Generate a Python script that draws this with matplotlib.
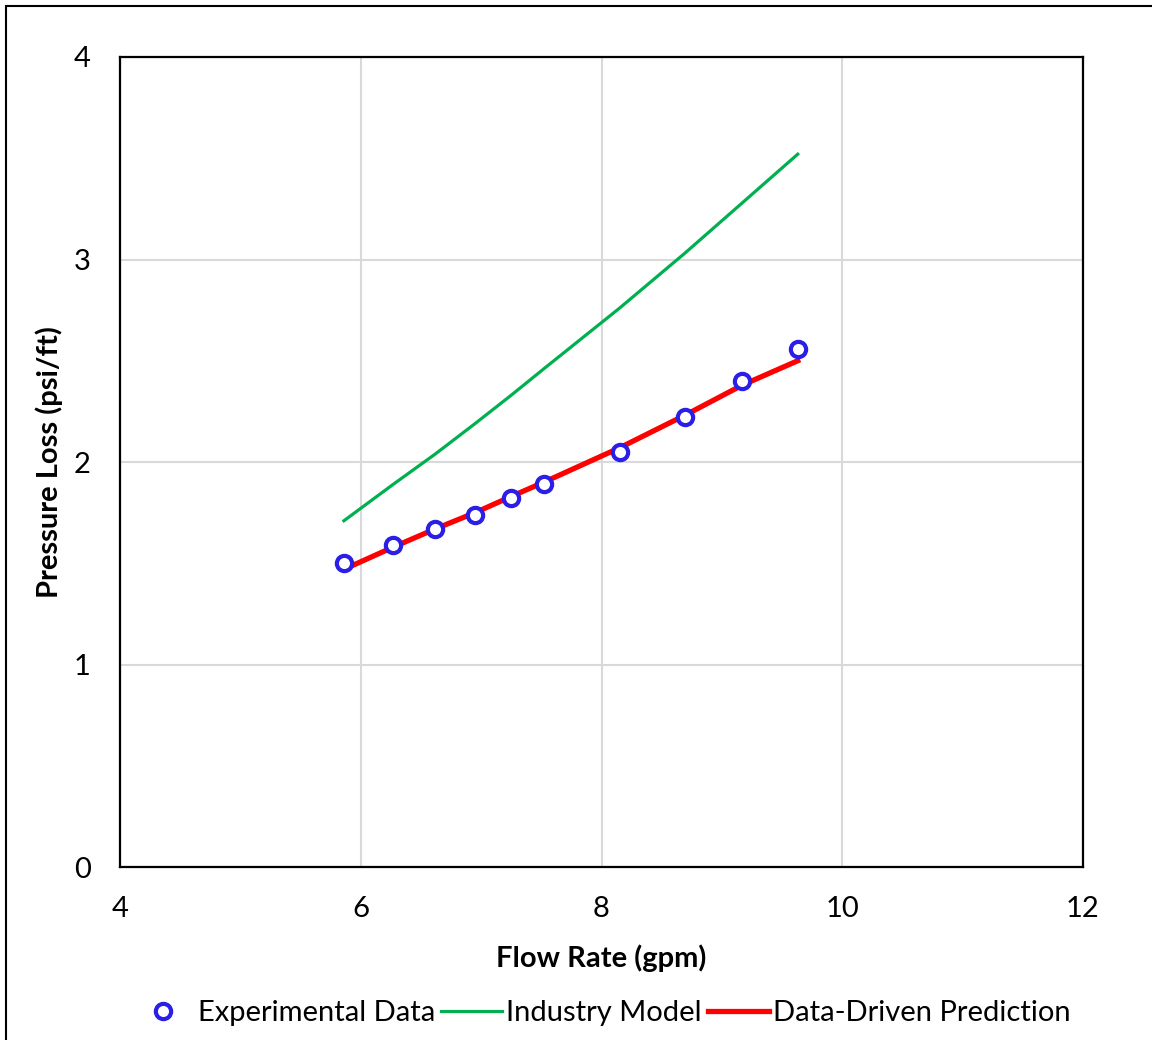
import matplotlib.pyplot as plt
from matplotlib.patches import Rectangle

# Experimental flow loop data
flow_rate = [5.86, 6.27, 6.62, 6.95, 7.25, 7.52, 8.15, 8.69, 9.17, 9.63]
exp_loss = [1.50, 1.59, 1.67, 1.74, 1.82, 1.89, 2.05, 2.22, 2.40, 2.56]

# Industry model and data-driven prediction at the same flow rates
industry_loss = [1.71, 1.89, 2.04, 2.19, 2.33, 2.46, 2.76, 3.03, 3.28, 3.52]
predicted_loss = [1.47, 1.58, 1.67, 1.75, 1.83, 1.90, 2.07, 2.23, 2.38, 2.50]

x_ticks = [4, 6, 8, 10, 12]
y_ticks = [0, 1, 2, 3, 4]

plt.rcParams['font.family'] = ['Lato', 'DejaVu Sans']

fig = plt.figure(figsize=(11.52, 10.4), dpi=100)
ax = fig.add_axes([0.1042, 0.1663, 0.8359, 0.7789])

ax.plot(flow_rate, exp_loss, linestyle='none', marker='o', markersize=11,
        markerfacecolor='white', markeredgecolor='#2B1EE6', markeredgewidth=3,
        label='Experimental Data', zorder=4)
ax.plot(flow_rate, industry_loss, color='#00B050', linewidth=2.3,
        label='Industry Model', zorder=3)
ax.plot(flow_rate, predicted_loss, color='#FF0000', linewidth=3.8,
        label='Data-Driven Prediction', zorder=3)

ax.set_xlim(4, 12)
ax.set_ylim(0, 4)
ax.set_xticks(x_ticks)
ax.set_yticks(y_ticks)
ax.tick_params(axis='both', length=0, labelsize=21)
ax.tick_params(axis='x', pad=21)
ax.tick_params(axis='y', pad=21)
ax.grid(True, color='#D9D9D9', linewidth=1.5)
ax.set_axisbelow(True)
for s in ax.spines.values():
    s.set_linewidth(1.6)
    s.set_color('black')

ax.set_xlabel('Flow Rate (gpm)', fontsize=21, fontweight='bold', labelpad=16)
ax.set_ylabel('Pressure Loss (psi/ft)', fontsize=21, fontweight='bold', labelpad=8)

fig.legend(loc='center', bbox_to_anchor=(0.522, 0.026), ncol=3, frameon=False,
           fontsize=21, handlelength=2.1, handletextpad=0.15, columnspacing=0.2)

# outer chart frame
fig.patches.append(Rectangle((6 / 1152, -0.1), 1.2, 1.1 - 6 / 1040,
                             transform=fig.transFigure, fill=False,
                             edgecolor='black', linewidth=1.5))

plt.savefig('out.png', dpi=100)
plt.close()
